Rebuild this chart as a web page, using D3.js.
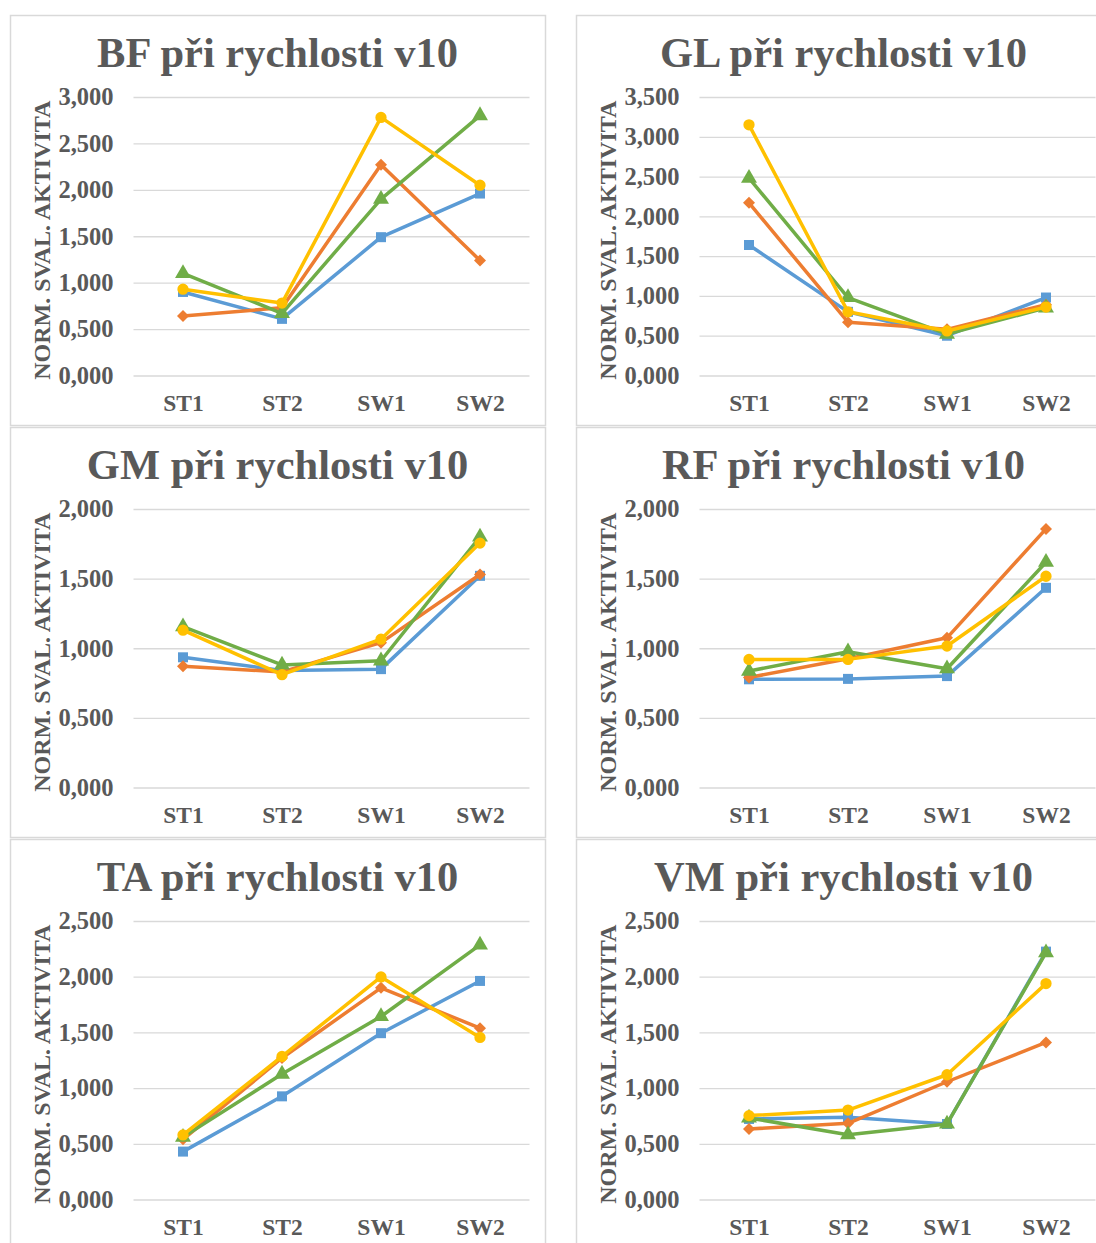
<!DOCTYPE html>
<html>
<head>
<meta charset="utf-8">
<script src="https://cdn.jsdelivr.net/npm/d3@7"></script>
<style>
  body { margin: 0; background: #fff; }
  text { font-family: "Liberation Serif", "Times New Roman", serif; font-weight: bold; fill: #595959; }
</style>
</head>
<body>
<div id="container"></div>
<script>
const width = 1096,
  height = 1243;

// categories on the x axis and the panels
const categories = ["ST1", "ST2", "SW1", "SW2"];
const muscles = ["BF", "GL", "GM", "RF", "TA", "VM"];
const yMaxes = [3, 3.5, 2, 2, 2.5, 2.5];
const seriesNames = ["Série 1", "Série 2", "Série 3", "Série 4"];
const seriesColors = ["#5B9BD5", "#ED7D31", "#70AD47", "#FFC000"];
const seriesSymbols = ["square", "diamond", "triangle", "circle"];

// values per muscle: one row per series (blue, orange, green, yellow)
const bfValues = [
  [0.90, 0.61, 1.49, 1.96],
  [0.64, 0.73, 2.27, 1.24],
  [1.10, 0.67, 1.90, 2.80],
  [0.93, 0.78, 2.78, 2.05]
];
const glValues = [
  [1.64, 0.80, 0.50, 0.98],
  [2.17, 0.67, 0.58, 0.89],
  [2.48, 0.98, 0.52, 0.85],
  [3.15, 0.80, 0.56, 0.86]
];
const gmValues = [
  [0.935, 0.84, 0.85, 1.52],
  [0.87, 0.83, 1.04, 1.53],
  [1.155, 0.88, 0.91, 1.80],
  [1.13, 0.81, 1.065, 1.755]
];
const rfValues = [
  [0.777, 0.78, 0.80, 1.434],
  [0.79, 0.925, 1.075, 1.857],
  [0.836, 0.975, 0.853, 1.618],
  [0.92, 0.92, 1.016, 1.517]
];
const taValues = [
  [0.43, 0.926, 1.493, 1.962],
  [0.54, 1.27, 1.90, 1.538],
  [0.56, 1.126, 1.643, 2.285],
  [0.58, 1.284, 1.998, 1.455]
];
const vmValues = [
  [0.723, 0.738, 0.678, 2.225],
  [0.633, 0.684, 1.057, 1.41],
  [0.732, 0.582, 0.678, 2.216],
  [0.753, 0.803, 1.12, 1.938]
];
const allValues = [bfValues, glValues, gmValues, rfValues, taValues, vmValues];

const panelW = 535,
  panelH = 410,
  panelX = [10, 576],
  panelY = [15, 427, 839],
  margin = {top: 82, bottom: 49, left: 123.5, right: 15.5};

const fmt = d3.formatLocale({decimal: ",", thousands: " ", grouping: [3], currency: ["", ""]}).format(".3f");

const symbolTypes = {
  square: d3.symbolSquare,
  diamond: d3.symbolSquare,
  triangle: d3.symbolTriangle,
  circle: d3.symbolCircle
};
const symbolSizes = {square: 100, diamond: 72, triangle: 110, circle: 100};

const svg = d3.select("#container")
  .append("svg")
  .attr("width", width)
  .attr("height", height);

muscles.forEach((m, i) => {
  const px = panelX[i % 2],
    py = panelY[Math.floor(i / 2)];

  const g = svg.append("g")
    .attr("transform", `translate(${px},${py})`);

  g.append("rect")
    .attr("x", 0.5)
    .attr("y", 0.5)
    .attr("width", panelW)
    .attr("height", panelH)
    .attr("fill", "#fff")
    .attr("stroke", "#d9d9d9")
    .attr("stroke-width", 1.5);

  const xScale = d3.scalePoint()
    .domain(categories)
    .range([margin.left, panelW - margin.right])
    .padding(0.5);

  const yScale = d3.scaleLinear()
    .domain([0, yMaxes[i]])
    .range([panelH - margin.bottom - 0.5, margin.top]);

  // grid + y tick labels
  const yAxis = d3.axisLeft(yScale)
    .tickValues(d3.range(0, yMaxes[i] + 0.001, 0.5))
    .tickSize(-(panelW - margin.right - margin.left))
    .tickPadding(20)
    .tickFormat(fmt);

  const yAxisGroup = g.append("g")
    .attr("class", "yAxis")
    .attr("transform", `translate(${margin.left},0)`)
    .call(yAxis);
  yAxisGroup.select(".domain").remove();
  yAxisGroup.selectAll("line").attr("stroke", "#d9d9d9").attr("stroke-width", 1.3);
  yAxisGroup.selectAll("text")
    .attr("font-size", 24.5)
    .attr("fill", "#595959");

  const xAxis = d3.axisBottom(xScale).tickSize(0).tickPadding(19);
  const xAxisGroup = g.append("g")
    .attr("class", "xAxis")
    .attr("transform", `translate(0,${yScale(0)})`)
    .call(xAxis);
  xAxisGroup.select(".domain").remove();
  xAxisGroup.selectAll("text")
    .attr("font-size", 23.5)
    .attr("fill", "#595959");

  // title
  g.append("text")
    .attr("x", panelW / 2)
    .attr("y", 52)
    .attr("text-anchor", "middle")
    .attr("font-size", 42.5)
    .text(`${m} při rychlosti v10`);

  // y axis title
  g.append("text")
    .attr("transform", `translate(40,${(yScale(0) + yScale(yMaxes[i])) / 2 + 4}) rotate(-90)`)
    .attr("text-anchor", "middle")
    .attr("font-size", 24)
    .text("NORM. SVAL. AKTIVITA");

  const line = d3.line()
    .x((d, j) => xScale(categories[j]))
    .y(d => yScale(d));

  allValues[i].forEach((vals, s) => {
    const sg = g.append("g").attr("class", "series");
    sg.append("path")
      .datum(vals)
      .attr("d", line)
      .attr("fill", "none")
      .attr("stroke", seriesColors[s])
      .attr("stroke-width", 3.5)
      .attr("stroke-linejoin", "round");

    const sym = seriesSymbols[s];
    sg.selectAll("path.dot")
      .data(vals)
      .join("path")
      .attr("class", "dot")
      .attr("d", d3.symbol().type(symbolTypes[sym]).size(symbolSizes[sym]))
      .attr("transform", (d, j) => `translate(${xScale(categories[j])},${yScale(d)})` + (sym === "diamond" ? " rotate(45)" : ""))
      .attr("fill", seriesColors[s]);
  });
});
</script>
</body>
</html>
